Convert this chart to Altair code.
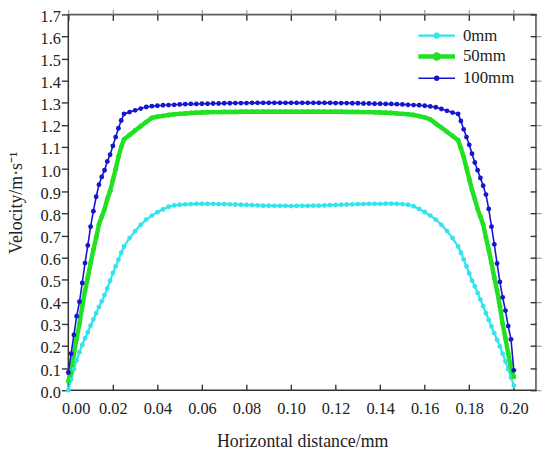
import altair as alt
import pandas as pd

# ---- data ----
X = [
    0.0, 0.00125, 0.0025, 0.00375, 0.005, 0.00625, 0.0075, 0.00875, 0.01, 0.01125,
    0.0125, 0.01375, 0.015, 0.01625, 0.0175, 0.01875, 0.02, 0.02125, 0.0225, 0.02375,
    0.025,
    0.0275, 0.03, 0.0325, 0.035, 0.0375, 0.04, 0.0425, 0.045, 0.0475, 0.05,
    0.0525, 0.055, 0.0575, 0.06, 0.0625, 0.065, 0.0675, 0.07, 0.0725, 0.075,
    0.0775, 0.08, 0.0825, 0.085, 0.0875, 0.09, 0.0925, 0.095, 0.0975,
    0.1,
    0.1025, 0.105, 0.1075, 0.11, 0.1125, 0.115, 0.1175, 0.12, 0.1225, 0.125,
    0.1275, 0.13, 0.1325, 0.135, 0.1375, 0.14, 0.1425, 0.145, 0.1475, 0.15,
    0.1525, 0.155, 0.1575, 0.16, 0.1625, 0.165, 0.1675, 0.17, 0.1725,
    0.175, 0.17625, 0.1775, 0.17875, 0.18, 0.18125, 0.1825, 0.18375, 0.185, 0.18625,
    0.1875, 0.18875, 0.19, 0.19125, 0.1925, 0.19375, 0.195, 0.19625, 0.1975, 0.19875,
    0.2,
]

V_0MM = [
    0.000, 0.048, 0.095, 0.135, 0.172, 0.205, 0.235, 0.262, 0.292, 0.320,
    0.348, 0.376, 0.402, 0.430, 0.460, 0.495, 0.530, 0.560, 0.590, 0.622,
    0.650,
    0.688, 0.720, 0.748, 0.772, 0.790, 0.805, 0.818, 0.830, 0.836, 0.839,
    0.841, 0.842, 0.843, 0.843, 0.843, 0.843, 0.842, 0.842, 0.841, 0.840,
    0.839, 0.838, 0.837, 0.836, 0.835, 0.835, 0.834, 0.834, 0.834,
    0.833,
    0.834, 0.834, 0.834, 0.835, 0.835, 0.836, 0.837, 0.838, 0.839, 0.840,
    0.841, 0.842, 0.842, 0.843, 0.843, 0.843, 0.844, 0.844, 0.843, 0.842,
    0.839, 0.832, 0.820, 0.806, 0.790, 0.772, 0.748, 0.720, 0.688,
    0.650, 0.622, 0.592, 0.560, 0.528, 0.496, 0.470, 0.440, 0.410, 0.380,
    0.348, 0.318, 0.288, 0.258, 0.228, 0.198, 0.165, 0.130, 0.095, 0.058,
    0.020,
]

V_50MM = [
    0.040, 0.080, 0.165, 0.235, 0.300, 0.380, 0.450, 0.510, 0.575, 0.635,
    0.690, 0.750, 0.785, 0.818, 0.865, 0.900, 0.950, 1.000, 1.055, 1.100,
    1.135,
    1.155, 1.175, 1.194, 1.213, 1.232, 1.237, 1.241, 1.245, 1.248, 1.250,
    1.252, 1.254, 1.255, 1.256, 1.257, 1.258, 1.258, 1.259, 1.259, 1.259,
    1.260, 1.260, 1.260, 1.260, 1.260, 1.260, 1.260, 1.260, 1.260,
    1.260,
    1.260, 1.260, 1.260, 1.260, 1.260, 1.260, 1.260, 1.260, 1.260, 1.259,
    1.259, 1.259, 1.258, 1.258, 1.257, 1.256, 1.255, 1.254, 1.252, 1.250,
    1.248, 1.245, 1.240, 1.234, 1.225, 1.206, 1.188, 1.169, 1.150,
    1.131, 1.095, 1.055, 1.005, 0.955, 0.905, 0.865, 0.820, 0.785, 0.750,
    0.690, 0.635, 0.575, 0.510, 0.450, 0.380, 0.300, 0.235, 0.165, 0.100,
    0.060,
]

V_100MM = [
    0.080, 0.165, 0.250, 0.335, 0.400, 0.485, 0.575, 0.655, 0.740, 0.810,
    0.875, 0.930, 0.965, 0.995, 1.035, 1.065, 1.105, 1.145, 1.185, 1.220,
    1.250,
    1.258, 1.266, 1.274, 1.281, 1.285, 1.287, 1.289, 1.290, 1.291, 1.293,
    1.294, 1.295, 1.295, 1.296, 1.296, 1.297, 1.297, 1.298, 1.298, 1.299,
    1.299, 1.299, 1.300, 1.300, 1.300, 1.300, 1.300, 1.300, 1.300,
    1.300,
    1.300, 1.300, 1.300, 1.300, 1.300, 1.300, 1.300, 1.299, 1.299, 1.299,
    1.298, 1.298, 1.297, 1.297, 1.296, 1.296, 1.295, 1.295, 1.294, 1.293,
    1.291, 1.290, 1.289, 1.287, 1.284, 1.280, 1.272, 1.264, 1.256,
    1.250, 1.218, 1.180, 1.145, 1.110, 1.070, 1.030, 0.995, 0.960, 0.925,
    0.885, 0.820, 0.740, 0.660, 0.573, 0.490, 0.420, 0.360, 0.290, 0.230,
    0.090,
]

SERIES = ["0mm", "50mm", "100mm"]
COLORS = ["#33E4EE", "#22E022", "#1616CF"]
LINE_WIDTHS = [2.2, 4.5, 1.6]
X_TICKS = [0.0, 0.02, 0.04, 0.06, 0.08, 0.1, 0.12, 0.14, 0.16, 0.18, 0.2]
Y_TICKS = [0.0, 0.1, 0.2, 0.3, 0.4, 0.5, 0.6, 0.7, 0.8, 0.9, 1.0, 1.1, 1.2,
           1.3, 1.4, 1.5, 1.6, 1.7]

for vals in (V_0MM, V_50MM, V_100MM):
    assert len(vals) == len(X), len(vals)

rows = []
for name, vals in zip(SERIES, [V_0MM, V_50MM, V_100MM]):
    for xv, v in zip(X, vals):
        rows.append({"x": xv, "v": v, "series": name})
df = pd.DataFrame(rows)

W, H = 473, 380
FONT = "serif"
INK = "#222222"

xs = alt.Scale(domain=[0, 0.21], nice=False, zero=False)
ys = alt.Scale(domain=[0, 1.7], nice=False)
cscale = alt.Scale(domain=SERIES, range=COLORS)

# legend symbol: a short line with a dot in the middle
LEGEND_PATH = ("M-3.7,0H-0.5 M0.5,0H3.7 "
               "M-0.4,0A0.4,0.4 0 1,1 0.4,0A0.4,0.4 0 1,1 -0.4,0Z")


def legend():
    return alt.Legend(
        title=None, orient="none", legendX=364, legendY=13, padding=0,
        symbolType=LEGEND_PATH, symbolSize=100,
        symbolOpacity=1, labelOffset=18, rowPadding=1,
        labelFont=FONT, labelFontSize=17, labelColor=INK)


base = alt.Chart(df)

lines = base.mark_line().encode(
    x=alt.X("x:Q", scale=xs, axis=alt.Axis(
        orient="bottom", values=X_TICKS, format=".2f", tickSize=0,
        labelPadding=11, domain=False, grid=False,
        labelFlush=True, labelFlushOffset=7,
        title="Horizontal distance/mm", titlePadding=15,
        labelFont=FONT, labelFontSize=16.5, labelColor=INK,
        titleFont=FONT, titleFontSize=18, titleFontWeight="normal", titleColor=INK)),
    y=alt.Y("v:Q", scale=ys, axis=alt.Axis(
        orient="left", values=Y_TICKS, format=".1f", tickSize=7, tickWidth=1.4,
        tickColor="#333333", labelPadding=1, labelOffset=2, domain=False, grid=False,
        title="Velocity/m·s⁻¹", titlePadding=15,
        labelFont=FONT, labelFontSize=16.5, labelColor=INK,
        titleFont=FONT, titleFontSize=18, titleFontWeight="normal", titleColor=INK)),
    color=alt.Color("series:N", scale=cscale, sort=SERIES, legend=legend()),
    strokeWidth=alt.StrokeWidth("series:N", scale=alt.Scale(
        type="ordinal", domain=SERIES, range=LINE_WIDTHS), legend=None),
    order=alt.Order("x:Q"),
)

points = base.mark_point(filled=True, opacity=1, size=24).encode(
    x=alt.X("x:Q", scale=xs),
    y=alt.Y("v:Q", scale=ys),
    color=alt.Color("series:N", scale=cscale, sort=SERIES, legend=legend()),
)

TICK_AXIS = dict(labels=False, domain=False, grid=False,
                 tickSize=6, tickWidth=1.4, tickColor="#333333", title=None)

# inward ticks along the bottom edge
ticks_bottom = base.mark_point(opacity=0).encode(
    x=alt.X("x:Q", scale=xs, axis=alt.Axis(orient="top", offset=-H,
                                           values=X_TICKS, **TICK_AXIS)),
    y=alt.Y("v:Q", scale=ys, axis=None),
)

# inward ticks along the top and right edges
ticks_top_right = base.mark_point(opacity=0).encode(
    x=alt.X("x:Q", scale=xs, axis=alt.Axis(orient="bottom", offset=-H,
                                           values=X_TICKS, **TICK_AXIS)),
    y=alt.Y("v:Q", scale=ys, axis=alt.Axis(orient="left", offset=-W,
                                           values=Y_TICKS, **TICK_AXIS)),
)

chart = alt.layer(lines, points, ticks_bottom, ticks_top_right).resolve_axis(
    x="independent", y="independent"
).properties(
    width=W, height=H,
    padding={"left": 61, "top": 4, "right": 6, "bottom": 60},
    autosize=alt.AutoSizeParams(type="none"),
    background="white",
).configure_view(
    stroke="#333333", strokeWidth=1.5
)

chart.save("out.html", embed_options={"renderer": "svg", "actions": False})
